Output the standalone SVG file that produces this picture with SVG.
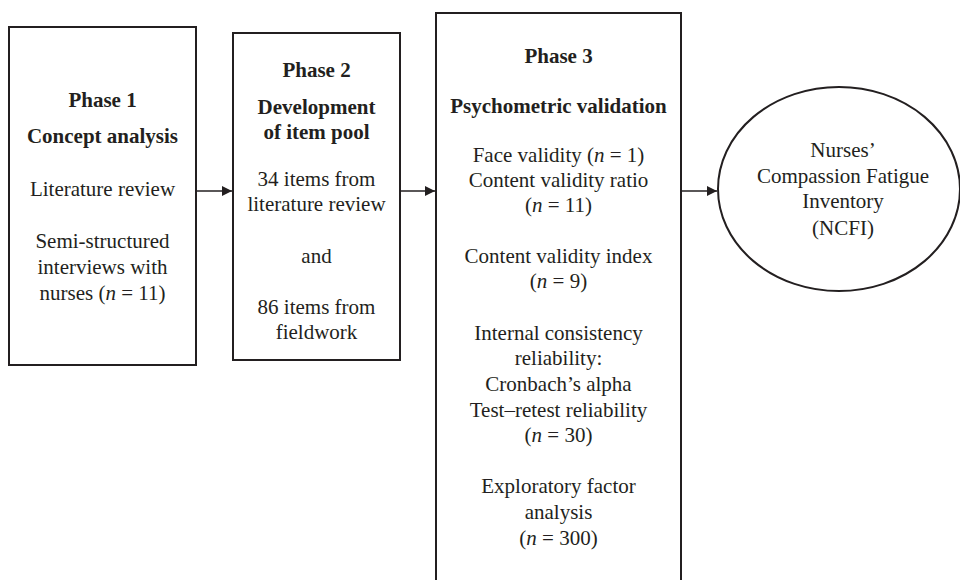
<svg xmlns="http://www.w3.org/2000/svg" width="960" height="580" viewBox="0 0 960 580">
<style>
.box{fill:#fff;stroke:#231f20;stroke-width:2}
.t{font-family:"Liberation Serif","Times New Roman",serif;font-size:21px;fill:#231f20;text-anchor:middle}
.b{font-weight:bold}
.con{stroke:#231f20;stroke-width:1.4;fill:none}
</style>
<defs>
<marker id="ah" viewBox="0 0 10 10" refX="10" refY="5" markerWidth="10" markerHeight="10" markerUnits="userSpaceOnUse" orient="auto">
<path d="M0,0 L10,5 L0,10 Z" fill="#231f20"/>
</marker>
</defs>
<rect width="960" height="580" fill="#fff"/>
<g id="phase1">
<rect class="box" x="9" y="27" width="187" height="338"/>
<text class="t b" x="102.5" y="107">Phase 1</text>
<text class="t b" x="102.5" y="143">Concept analysis</text>
<text class="t" x="102.5" y="196">Literature review</text>
<text class="t" x="102.5" y="248">Semi-structured</text>
<text class="t" x="102.5" y="274">interviews with</text>
<text class="t" x="102.5" y="300">nurses (<tspan font-style="italic">n</tspan> = 11)</text>
</g>
<g id="phase2">
<rect class="box" x="233" y="33" width="167" height="327"/>
<text class="t b" x="316.5" y="77">Phase 2</text>
<text class="t b" x="316.5" y="114">Development</text>
<text class="t b" x="316.5" y="139">of item pool</text>
<text class="t" x="316.5" y="186">34 items from</text>
<text class="t" x="316.5" y="211">literature review</text>
<text class="t" x="316.5" y="263">and</text>
<text class="t" x="316.5" y="314">86 items from</text>
<text class="t" x="316.5" y="339">fieldwork</text>
</g>
<g id="phase3">
<rect class="box" x="436" y="13" width="245" height="580"/>
<text class="t b" x="558.5" y="63">Phase 3</text>
<text class="t b" x="558.5" y="113">Psychometric validation</text>
<text class="t" x="558.5" y="162">Face validity (<tspan font-style="italic">n</tspan> = 1)</text>
<text class="t" x="558.5" y="187">Content validity ratio</text>
<text class="t" x="558.5" y="212">(<tspan font-style="italic">n</tspan> = 11)</text>
<text class="t" x="558.5" y="263">Content validity index</text>
<text class="t" x="558.5" y="288">(<tspan font-style="italic">n</tspan> = 9)</text>
<text class="t" x="558.5" y="340">Internal consistency</text>
<text class="t" x="558.5" y="365">reliability:</text>
<text class="t" x="558.5" y="391">Cronbach’s alpha</text>
<text class="t" x="558.5" y="417">Test–retest reliability</text>
<text class="t" x="558.5" y="442">(<tspan font-style="italic">n</tspan> = 30)</text>
<text class="t" x="558.5" y="493">Exploratory factor</text>
<text class="t" x="558.5" y="519">analysis</text>
<text class="t" x="558.5" y="545">(<tspan font-style="italic">n</tspan> = 300)</text>
</g>
<g id="ncfi">
<ellipse class="box" cx="839" cy="189" rx="121" ry="102"/>
<text class="t" x="843" y="157">Nurses’</text>
<text class="t" x="843" y="183">Compassion Fatigue</text>
<text class="t" x="843" y="208">Inventory</text>
<text class="t" x="843" y="235">(NCFI)</text>
</g>
<g id="connectors">
<line class="con" x1="196" y1="191" x2="232" y2="191" marker-end="url(#ah)"/>
<line class="con" x1="400" y1="191" x2="435" y2="191" marker-end="url(#ah)"/>
<line class="con" x1="681" y1="191" x2="717" y2="191" marker-end="url(#ah)"/>
</g>
</svg>
